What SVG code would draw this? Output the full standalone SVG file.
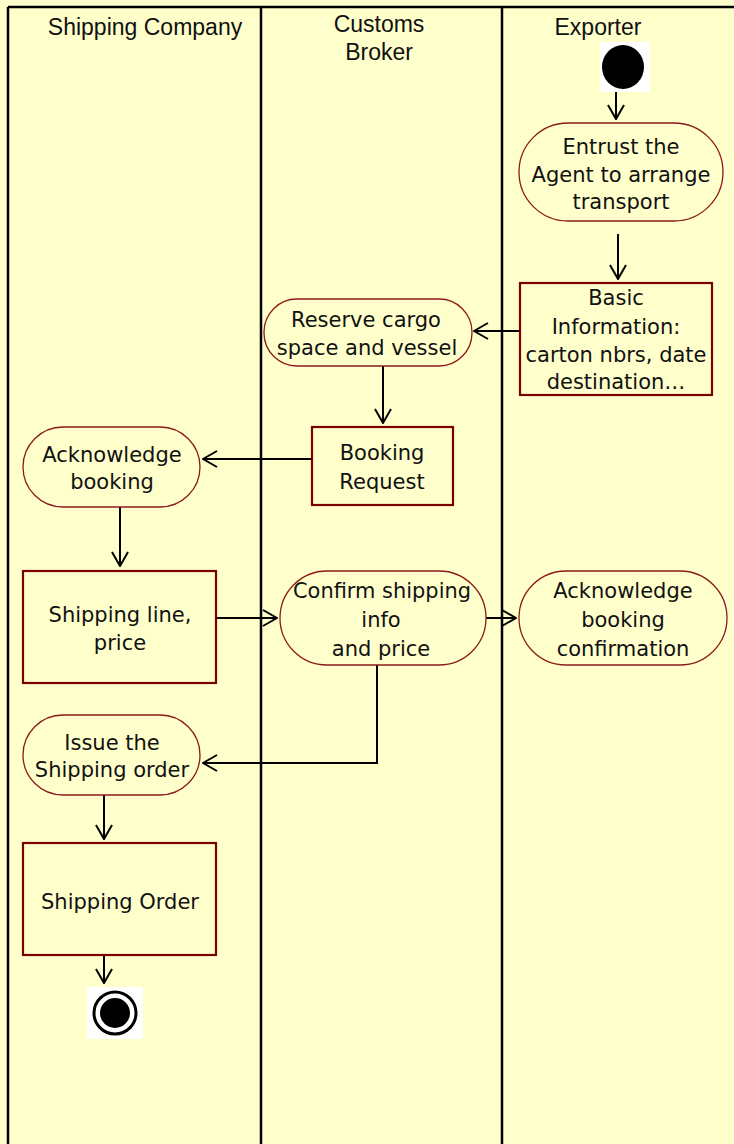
<svg xmlns="http://www.w3.org/2000/svg" width="734" height="1144" viewBox="0 0 734 1144">
<defs>
<style>
.lane{stroke:#000;stroke-width:2.5;fill:none}
.hdr{font-family:"Liberation Sans",Arial,sans-serif;font-size:23px;fill:#111;text-anchor:middle}
.t{font-family:"DejaVu Sans",Verdana,sans-serif;font-size:21px;fill:#111;text-anchor:middle}
.act{fill:#FFFFCC;stroke:#8B1A1A;stroke-width:1.3}
.obj{fill:#FFFFCC;stroke:#7A0000;stroke-width:2.2}
.c{stroke:#000;stroke-width:2;fill:none}
</style>
<marker id="arr" viewBox="0 0 16 18" refX="15" refY="9" markerWidth="16" markerHeight="18" markerUnits="userSpaceOnUse" orient="auto">
<path d="M1,1 L15,9 L1,17" fill="none" stroke="#000" stroke-width="2"/>
</marker>
</defs>
<rect x="0" y="0" width="734" height="1144" fill="#FFFFCC"/>
<g id="lanes">
<line class="lane" x1="8" y1="7" x2="734" y2="7"/>
<line class="lane" x1="8" y1="7" x2="8" y2="1144"/>
<line class="lane" x1="261" y1="7" x2="261" y2="1144"/>
<line class="lane" x1="502" y1="7" x2="502" y2="1144" stroke-width="3"/>
<text class="hdr" x="145" y="35">Shipping Company</text>
<text class="hdr" x="379" y="32">Customs</text>
<text class="hdr" x="379" y="60">Broker</text>
<text class="hdr" x="598" y="35">Exporter</text>
</g>
<g id="connectors">
<line class="c" x1="616" y1="90" x2="616" y2="119" marker-end="url(#arr)"/>
<line class="c" x1="618" y1="234" x2="618" y2="279" marker-end="url(#arr)"/>
<line class="c" x1="519" y1="331" x2="474" y2="331" marker-end="url(#arr)"/>
<line class="c" x1="383" y1="366" x2="383" y2="423" marker-end="url(#arr)"/>
<line class="c" x1="312" y1="459" x2="203" y2="459" marker-end="url(#arr)"/>
<line class="c" x1="120" y1="507" x2="120" y2="566" marker-end="url(#arr)"/>
<line class="c" x1="216" y1="618" x2="277" y2="618" marker-end="url(#arr)"/>
<line class="c" x1="486" y1="618" x2="516" y2="618" marker-end="url(#arr)"/>
<polyline class="c" points="377,665 377,763 203,763" marker-end="url(#arr)"/>
<line class="c" x1="104" y1="795" x2="104" y2="839" marker-end="url(#arr)"/>
<line class="c" x1="104" y1="955" x2="104" y2="983" marker-end="url(#arr)"/>
</g>
<g id="start">
<rect x="600" y="42" width="50" height="50" fill="#fff"/>
<ellipse cx="623" cy="67" rx="21" ry="22" fill="#000"/>
</g>
<g id="entrust">
<rect class="act" x="519" y="123" width="204" height="98" rx="49" ry="49"/>
<text class="t" x="621" y="154">Entrust the</text>
<text class="t" x="621" y="182">Agent to arrange</text>
<text class="t" x="621" y="209">transport</text>
</g>
<g id="basic-info">
<rect class="obj" x="520" y="283" width="192" height="112"/>
<text class="t" x="616" y="305">Basic</text>
<text class="t" x="616" y="334">Information:</text>
<text class="t" x="616" y="362">carton nbrs, date</text>
<text class="t" x="616" y="389">destination…</text>
</g>
<g id="reserve">
<rect class="act" x="264" y="299" width="208" height="67" rx="33" ry="33"/>
<text class="t" x="366" y="327">Reserve cargo</text>
<text class="t" x="367" y="355">space and vessel</text>
</g>
<g id="booking-request">
<rect class="obj" x="312" y="427" width="141" height="78"/>
<text class="t" x="382" y="460">Booking</text>
<text class="t" x="382" y="489">Request</text>
</g>
<g id="ack-booking">
<rect class="act" x="23" y="427" width="177" height="80" rx="40" ry="40"/>
<text class="t" x="112" y="462">Acknowledge</text>
<text class="t" x="112" y="489">booking</text>
</g>
<g id="shipping-line">
<rect class="obj" x="23" y="571" width="193" height="112"/>
<text class="t" x="120" y="622">Shipping line,</text>
<text class="t" x="120" y="650">price</text>
</g>
<g id="confirm">
<rect class="act" x="280" y="571" width="206" height="94" rx="47" ry="47"/>
<text class="t" x="382" y="598" textLength="178" lengthAdjust="spacingAndGlyphs">Confirm shipping</text>
<text class="t" x="381" y="627">info</text>
<text class="t" x="381" y="656">and price</text>
</g>
<g id="ack-confirmation">
<rect class="act" x="519" y="571" width="208" height="94" rx="47" ry="47"/>
<text class="t" x="623" y="598">Acknowledge</text>
<text class="t" x="623" y="627">booking</text>
<text class="t" x="623" y="656">confirmation</text>
</g>
<g id="issue">
<rect class="act" x="23" y="715" width="177" height="80" rx="40" ry="40"/>
<text class="t" x="112" y="750">Issue the</text>
<text class="t" x="112" y="777">Shipping order</text>
</g>
<g id="shipping-order">
<rect class="obj" x="23" y="843" width="193" height="112"/>
<text class="t" x="120" y="909">Shipping Order</text>
</g>
<g id="end">
<rect x="87" y="987" width="56" height="52" fill="#fff"/>
<circle cx="115" cy="1013" r="21" fill="none" stroke="#000" stroke-width="3"/>
<circle cx="115" cy="1013" r="15" fill="#000"/>
</g>
</svg>
